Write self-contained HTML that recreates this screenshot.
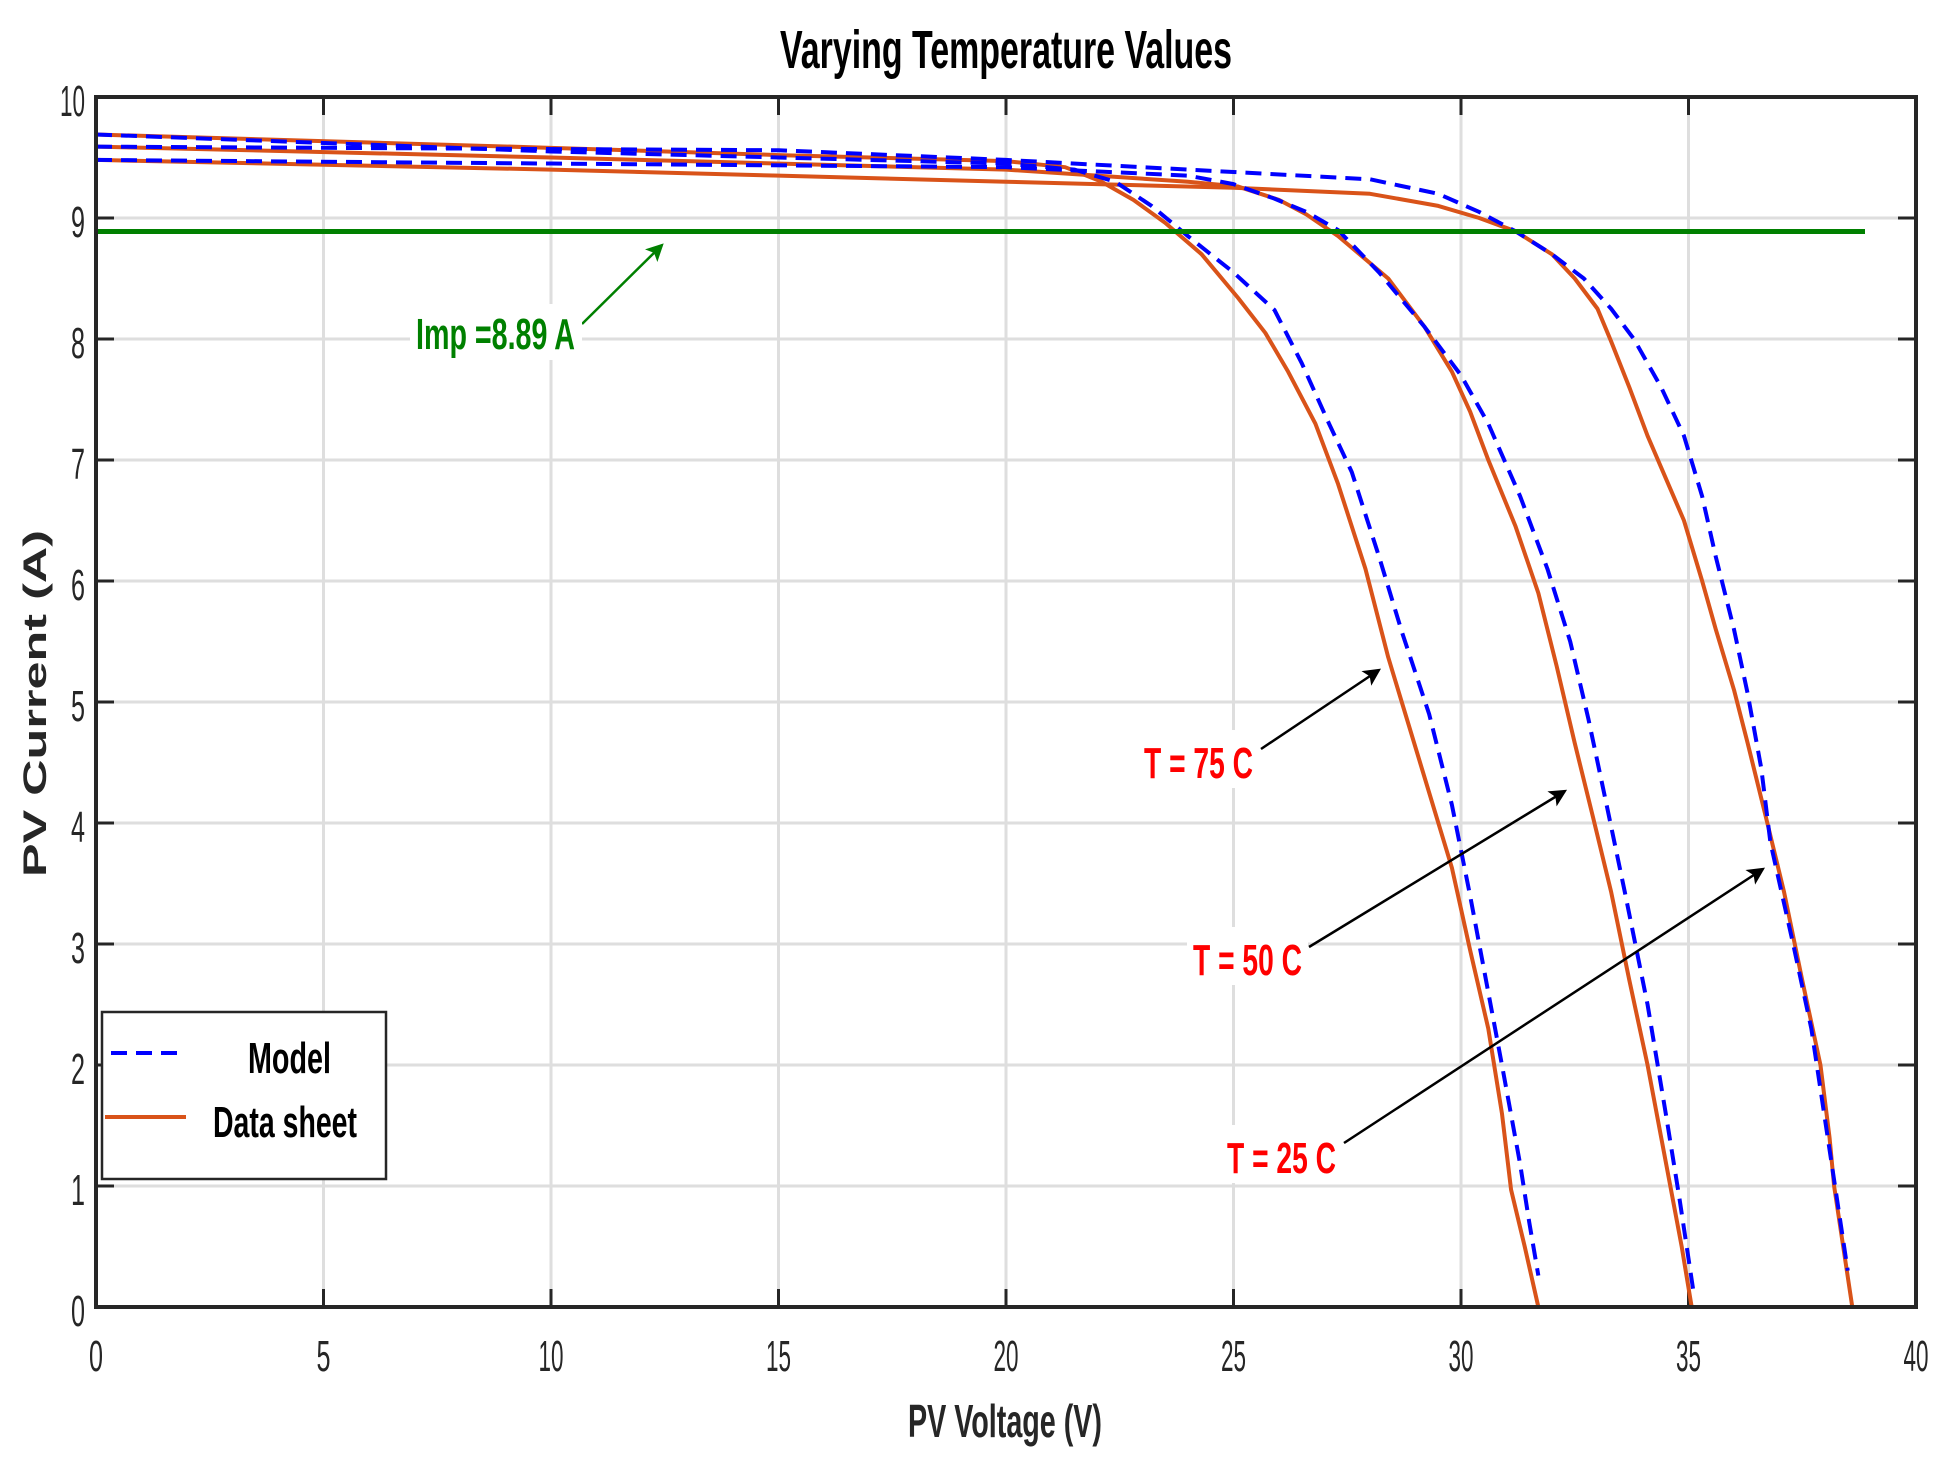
<!DOCTYPE html>
<html><head><meta charset="utf-8"><style>html,body{margin:0;padding:0;background:#fff}svg{display:block}</style></head>
<body>
<svg width="1942" height="1469" viewBox="0 0 1942 1469" xmlns="http://www.w3.org/2000/svg" font-family="Liberation Sans, sans-serif">
<rect width="1942" height="1469" fill="#fff"/>
<g stroke="#dedede" stroke-width="3">
<line x1="323.5" y1="97" x2="323.5" y2="1307"/><line x1="551" y1="97" x2="551" y2="1307"/><line x1="778.5" y1="97" x2="778.5" y2="1307"/><line x1="1006" y1="97" x2="1006" y2="1307"/><line x1="1233.5" y1="97" x2="1233.5" y2="1307"/><line x1="1461" y1="97" x2="1461" y2="1307"/><line x1="1688.5" y1="97" x2="1688.5" y2="1307"/>
<line x1="96" y1="1186" x2="1916" y2="1186"/><line x1="96" y1="1065" x2="1916" y2="1065"/><line x1="96" y1="944" x2="1916" y2="944"/><line x1="96" y1="823" x2="1916" y2="823"/><line x1="96" y1="702" x2="1916" y2="702"/><line x1="96" y1="581" x2="1916" y2="581"/><line x1="96" y1="460" x2="1916" y2="460"/><line x1="96" y1="339" x2="1916" y2="339"/><line x1="96" y1="218" x2="1916" y2="218"/>
</g>
<g stroke="#262626" stroke-width="3">
<path d="M323.5 1307v-18M551 1307v-18M778.5 1307v-18M1006 1307v-18M1233.5 1307v-18M1461 1307v-18M1688.5 1307v-18M323.5 97v18M551 97v18M778.5 97v18M1006 97v18M1233.5 97v18M1461 97v18M1688.5 97v18"/>
<path d="M96 1186h18M96 1065h18M96 944h18M96 823h18M96 702h18M96 581h18M96 460h18M96 339h18M96 218h18M1916 1186h-18M1916 1065h-18M1916 944h-18M1916 823h-18M1916 702h-18M1916 581h-18M1916 460h-18M1916 339h-18M1916 218h-18"/>
</g>
<g transform="translate(96,1307) scale(45.5,-121)" fill="none" stroke-linejoin="round">
<g stroke="#d95319" stroke-width="4">
<path vector-effect="non-scaling-stroke" d="M0 9.69L10 9.58L15 9.52L20 9.47L21.3 9.42L22.1 9.3L22.8 9.15L23.5 8.96L24.3 8.7L25.1 8.34L25.7 8.05L26.2 7.73L26.8 7.3L27.3 6.8L27.9 6.1L28.4 5.37L29.1 4.5L29.8 3.63L30.2 2.95L30.6 2.3L30.9 1.6L31.1 0.97L31.4 0.5L31.7 0"/>
<path vector-effect="non-scaling-stroke" d="M0 9.59L10 9.5L20 9.4L24 9.3L25.1 9.26L26 9.15L26.6 9.03L27.3 8.85L28.4 8.5L29.2 8.1L29.8 7.73L30.2 7.4L30.6 7.0L31.2 6.45L31.7 5.9L32.1 5.3L32.5 4.66L32.9 4.05L33.3 3.43L33.7 2.7L34.1 2.0L34.4 1.4L34.6 1.0L34.85 0.5L35.07 0"/>
<path vector-effect="non-scaling-stroke" d="M0 9.48L10 9.4L15 9.35L20 9.3L25 9.25L28 9.2L29.5 9.1L30.4 9.0L31.2 8.89L32 8.7L32.5 8.5L33 8.25L33.3 7.98L33.7 7.6L34.1 7.2L34.5 6.85L34.9 6.5L35.3 6.0L35.6 5.6L36 5.1L36.3 4.66L36.7 4.05L37.1 3.43L37.5 2.7L37.9 2.0L38.1 1.4L38.2 1.0L38.4 0.5L38.6 0"/>
</g>
<g stroke="#0000ff" stroke-width="4" stroke-dasharray="16 9">
<path vector-effect="non-scaling-stroke" d="M0 9.69L10 9.55L20 9.45L21.5 9.4L22.4 9.3L23.2 9.1L24.0 8.85L25 8.55L25.9 8.24L26.5 7.8L27.1 7.3L27.6 6.9L28.2 6.2L28.7 5.58L29.3 4.9L29.8 4.15L30.2 3.4L30.6 2.6L30.9 2.0L31.3 1.18L31.5 0.7L31.7 0.26"/>
<path vector-effect="non-scaling-stroke" d="M0 9.48L10 9.45L20 9.42L24 9.35L25 9.28L25.9 9.16L26.6 9.05L27.3 8.9L28.2 8.55L29.2 8.1L30 7.7L30.6 7.3L31.3 6.7L31.9 6.1L32.4 5.5L32.8 4.86L33.2 4.15L33.6 3.43L34.1 2.5L34.5 1.6L34.8 0.9L35.1 0.15"/>
<path vector-effect="non-scaling-stroke" d="M0 9.59L15 9.56L20 9.48L25 9.38L28 9.32L29.5 9.2L30.4 9.05L31.2 8.89L32 8.7L32.7 8.5L33.3 8.25L33.8 8.0L34.4 7.6L34.9 7.2L35.3 6.7L35.6 6.2L36 5.6L36.3 5.07L36.6 4.45L36.8 3.84L37.3 3.0L37.7 2.3L38.1 1.3L38.5 0.3"/>
</g>
</g>
<line x1="96" y1="231.5" x2="1865" y2="231.5" stroke="#008000" stroke-width="5"/>
<rect x="96" y="97" width="1820" height="1210" fill="none" stroke="#262626" stroke-width="4"/>
<defs>
<marker id="ag" viewBox="0 0 10 10" refX="9" refY="5" markerWidth="8" markerHeight="8" orient="auto" markerUnits="userSpaceOnUse" style="overflow:visible"><path d="M0 0L22 11L0 22L5 11z" transform="translate(-10,-6)" fill="#008000"/></marker>
<marker id="ak" viewBox="0 0 10 10" refX="9" refY="5" markerWidth="8" markerHeight="8" orient="auto" markerUnits="userSpaceOnUse" style="overflow:visible"><path d="M0 0L22 11L0 22L5 11z" transform="translate(-10,-6)" fill="#000"/></marker>
</defs>
<line x1="582" y1="324" x2="662" y2="245" stroke="#008000" stroke-width="2.5" marker-end="url(#ag)"/>
<line x1="1261" y1="749" x2="1379" y2="670" stroke="#000" stroke-width="2.5" marker-end="url(#ak)"/>
<line x1="1309" y1="947" x2="1565" y2="791" stroke="#000" stroke-width="2.5" marker-end="url(#ak)"/>
<line x1="1344" y1="1143" x2="1763" y2="869" stroke="#000" stroke-width="2.5" marker-end="url(#ak)"/>
<rect x="410" y="304" width="172" height="56" fill="#fff"/>
<text x="416" y="349" font-size="44" font-weight="bold" fill="#008000" textLength="159" lengthAdjust="spacingAndGlyphs">Imp =8.89 A</text>
<rect x="1138" y="730" width="121" height="58" fill="#fff"/>
<text x="1144" y="778" font-size="44" font-weight="bold" fill="#ff0000" textLength="109" lengthAdjust="spacingAndGlyphs">T = 75 C</text>
<rect x="1187" y="927" width="121" height="58" fill="#fff"/>
<text x="1193" y="975" font-size="44" font-weight="bold" fill="#ff0000" textLength="109" lengthAdjust="spacingAndGlyphs">T = 50 C</text>
<rect x="1221" y="1125" width="121" height="58" fill="#fff"/>
<text x="1227" y="1173" font-size="44" font-weight="bold" fill="#ff0000" textLength="109" lengthAdjust="spacingAndGlyphs">T = 25 C</text>
<rect x="102" y="1012" width="284" height="167" fill="#fff" stroke="#262626" stroke-width="2.5"/>
<line x1="111" y1="1053" x2="186" y2="1053" stroke="#0000ff" stroke-width="4" stroke-dasharray="16 9"/>
<line x1="105" y1="1117" x2="186" y2="1117" stroke="#d95319" stroke-width="4"/>
<text x="248" y="1073" font-size="44" font-weight="bold" fill="#000" textLength="83" lengthAdjust="spacingAndGlyphs">Model</text>
<text x="213" y="1137" font-size="44" font-weight="bold" fill="#000" textLength="144" lengthAdjust="spacingAndGlyphs">Data sheet</text>
<g font-size="44" fill="#262626" text-anchor="middle">
<text x="96" y="1371" textLength="14" lengthAdjust="spacingAndGlyphs">0</text>
<text x="323.5" y="1371" textLength="14" lengthAdjust="spacingAndGlyphs">5</text>
<text x="551" y="1371" textLength="25" lengthAdjust="spacingAndGlyphs">10</text>
<text x="778.5" y="1371" textLength="25" lengthAdjust="spacingAndGlyphs">15</text>
<text x="1006" y="1371" textLength="25" lengthAdjust="spacingAndGlyphs">20</text>
<text x="1233.5" y="1371" textLength="25" lengthAdjust="spacingAndGlyphs">25</text>
<text x="1461" y="1371" textLength="25" lengthAdjust="spacingAndGlyphs">30</text>
<text x="1688.5" y="1371" textLength="25" lengthAdjust="spacingAndGlyphs">35</text>
<text x="1916" y="1371" textLength="25" lengthAdjust="spacingAndGlyphs">40</text>
</g>
<g font-size="44" fill="#262626" text-anchor="end">
<text x="85" y="1326" textLength="14" lengthAdjust="spacingAndGlyphs">0</text>
<text x="85" y="1205" textLength="14" lengthAdjust="spacingAndGlyphs">1</text>
<text x="85" y="1084" textLength="14" lengthAdjust="spacingAndGlyphs">2</text>
<text x="85" y="963" textLength="14" lengthAdjust="spacingAndGlyphs">3</text>
<text x="85" y="842" textLength="14" lengthAdjust="spacingAndGlyphs">4</text>
<text x="85" y="721" textLength="14" lengthAdjust="spacingAndGlyphs">5</text>
<text x="85" y="600" textLength="14" lengthAdjust="spacingAndGlyphs">6</text>
<text x="85" y="479" textLength="14" lengthAdjust="spacingAndGlyphs">7</text>
<text x="85" y="358" textLength="14" lengthAdjust="spacingAndGlyphs">8</text>
<text x="85" y="237" textLength="14" lengthAdjust="spacingAndGlyphs">9</text>
<text x="85" y="116" textLength="25" lengthAdjust="spacingAndGlyphs">10</text>
</g>
<text x="780" y="68" font-size="54" font-weight="bold" fill="#000" textLength="452" lengthAdjust="spacingAndGlyphs">Varying Temperature Values</text>
<text x="908" y="1437" font-size="46" font-weight="bold" fill="#262626" textLength="194" lengthAdjust="spacingAndGlyphs">PV Voltage (V)</text>
<text transform="translate(46,877) rotate(-90)" x="0" y="0" font-size="32" font-weight="bold" fill="#262626" textLength="347" lengthAdjust="spacingAndGlyphs">PV Current (A)</text>
</svg>
</body></html>
